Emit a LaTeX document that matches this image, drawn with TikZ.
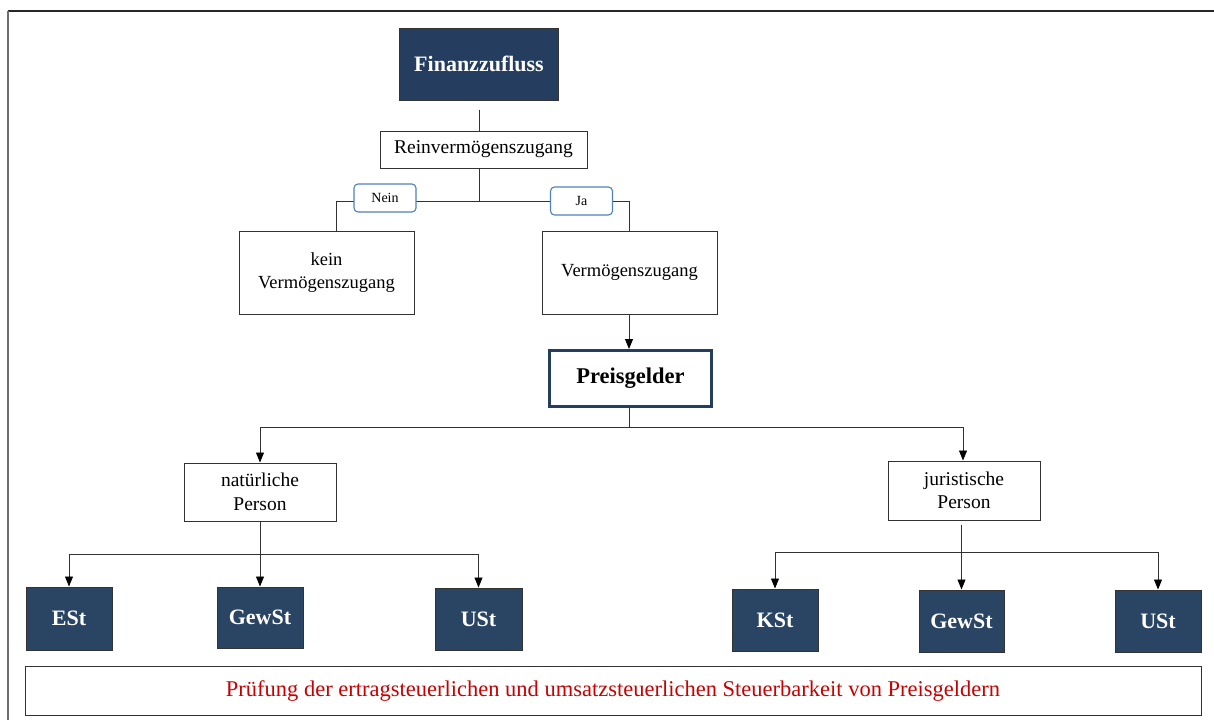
\documentclass[tikz,border=0pt]{standalone}
\usepackage{fontspec}
\setmainfont{Liberation Serif}
\usetikzlibrary{arrows.meta,calc}

\definecolor{navy}{RGB}{37,62,95}
\definecolor{navybox}{RGB}{42,68,100}
\definecolor{tagblue}{RGB}{79,129,189}
\definecolor{linegray}{RGB}{50,50,50}
\definecolor{framegray}{RGB}{110,110,110}
\definecolor{textred}{RGB}{200,0,0}

\tikzset{
  box/.style={draw=linegray, line width=1pt, fill=white, inner sep=0pt,
    align=center, font=\fontsize{18.5}{22.5}\selectfont},
  taxbox/.style={draw=black!80, line width=1pt, fill=navybox, text=white,
    inner sep=0pt, font=\fontsize{22}{26}\selectfont\bfseries},
  tag/.style={draw=tagblue, line width=1.1pt, rounded corners=4pt, fill=white,
    inner sep=0pt, minimum width=62pt, minimum height=28pt,
    font=\fontsize{14}{16}\selectfont},
  conn/.style={draw=linegray, line width=0.9pt},
  arr/.style={conn, -{Triangle[length=10pt,width=8pt,color=black]}},
}

\begin{document}
\begin{tikzpicture}[x=1pt, y=-1pt]
\useasboundingbox (0,0) rectangle (1214,720);

% frame edges
\draw[line width=1.6pt, draw=black!85] (8,11) -- (1214,11);
\draw[line width=2pt, draw=framegray] (8,11) -- (8,720);

% upper decision part
\node[taxbox, fill=navy, minimum width=159pt, minimum height=72pt] (fin) at (479,64) {Finanzzufluss};
\node[box, minimum width=207pt, minimum height=37pt, font=\fontsize{19.5}{23}\selectfont] (rein) at (483.5,149.5) {Reinvermögenszugang};
\node[box, minimum width=175pt, minimum height=83pt] (kein) at (326.5,272.5) {kein\\Vermögenszugang};
\node[box, minimum width=175pt, minimum height=83pt] (verm) at (629.5,272.5) {Vermögenszugang};

\coordinate (jn) at (479,201);
\coordinate (jl) at (336,201);
\coordinate (jr) at (629,201);
\draw[conn] ($(fin.south)+(0,9)$) -- (fin.south |- rein.north);
\draw[conn] (fin.south |- rein.south) -- (jn);
\draw[conn] (jl |- kein.north) -- (jl) -- (jr) -- (jr |- verm.north);
\node[tag] (nein) at (385,198) {Nein};
\node[tag] (ja) at (581.5,201) {Ja};

% prize money
\node[box, draw=navy, line width=3pt, minimum width=162pt, minimum height=56pt,
  font=\fontsize{22.5}{26}\selectfont\bfseries] (preis) at (630.5,378.5) {Preisgelder};
\draw[arr] (verm.south -| jr) -- (jr |- preis.north);

\node[box, minimum width=152pt, minimum height=58pt, font=\fontsize{19.5}{23.5}\selectfont] (nat) at (260,492) {natürliche\\Person};
\node[box, minimum width=152pt, minimum height=59pt, font=\fontsize{19.5}{23.5}\selectfont] (jur) at (964,490.5) {juristische\\Person};

\coordinate (pj) at (629,427);
\draw[conn] (preis.south -| pj) -- (pj);
\draw[arr] (pj) -| (nat.north);
\draw[arr] (pj) -| ($(jur.north)+(-1,0)$);

% taxes for natural persons
\node[taxbox, minimum width=86pt, minimum height=63pt] (est) at (69,618.5) {ESt};
\node[taxbox, minimum width=86pt, minimum height=61pt] (gew1) at (260,617.5) {GewSt};
\node[taxbox, minimum width=87pt, minimum height=62pt] (ust1) at (478.5,619) {USt};

\coordinate (nj) at (260,554);
\draw[arr] (nat.south) -- (gew1.north);
\draw[arr] (nj) -| (est.north);
\draw[arr] (nj) -| (ust1.north);

% taxes for legal persons
\node[taxbox, minimum width=86pt, minimum height=62pt] (kst) at (775,620) {KSt};
\node[taxbox, minimum width=85pt, minimum height=62pt] (gew2) at (961.5,621) {GewSt};
\node[taxbox, minimum width=86pt, minimum height=62pt] (ust2) at (1158,621) {USt};

\coordinate (jj) at (961.5,552);
\draw[arr] ($(jur.south -| gew2.north)+(0,4)$) -- (gew2.north);
\draw[arr] (jj) -| (kst.north);
\draw[arr] (jj) -| (ust2.north);

% caption box
\node[box, minimum width=1176pt, minimum height=49pt, text=textred,
  font=\fontsize{22.5}{26}\selectfont] (cap) at (613,690.5)
  {Prüfung der ertragsteuerlichen und umsatzsteuerlichen Steuerbarkeit von Preisgeldern};
\end{tikzpicture}
\end{document}
